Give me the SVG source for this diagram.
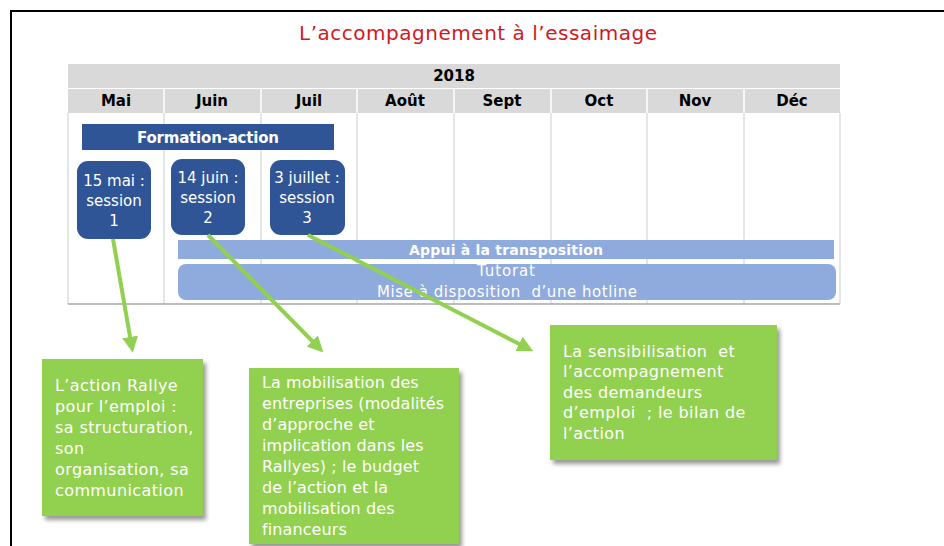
<svg xmlns="http://www.w3.org/2000/svg" width="944" height="546" viewBox="0 0 944 546">
<style>
.hdr{fill:#D9D9D9}
.mon{font-family:"DejaVu Sans",sans-serif;font-weight:bold;font-size:15px;fill:#000;text-anchor:middle}
.grid{stroke:#D4D4D4;stroke-width:1.2;fill:none}
.sess{fill:#2F5597}
.st{font-family:"DejaVu Sans",sans-serif;font-size:15px;fill:#fff;text-anchor:middle}
.lb{fill:#8FAADC}
.gb{fill:#92D050;filter:url(#sh)}
.gt{font-family:"DejaVu Sans",sans-serif;font-size:16px;letter-spacing:0.4px;fill:#fff}
.conn{stroke:#92D050;stroke-width:4;fill:none;marker-end:url(#ah)}
</style>
<defs>
<filter id="sh" x="-10%" y="-10%" width="130%" height="130%">
<feDropShadow dx="3" dy="4" stdDeviation="2" flood-color="#7f7f7f" flood-opacity="0.8"/>
</filter>
<marker id="ah" viewBox="0 0 10 10" refX="7" refY="5" markerWidth="4" markerHeight="4" orient="auto" markerUnits="strokeWidth">
<path d="M0,0 L10,5 L0,10 z" fill="#92D050"/>
</marker>
</defs>
<rect width="944" height="546" fill="#fff"/>
<path d="M11,546 V11 H944" stroke="#000" stroke-width="2" fill="none"/>
<text id="title" x="478" y="40" font-family="DejaVu Sans,sans-serif" font-size="20" fill="#D0191F" text-anchor="middle" textLength="358">L’accompagnement à l’essaimage</text>
<g id="table">
<rect class="hdr" x="68" y="64" width="772" height="24"/>
<text x="454" y="81" font-family="DejaVu Sans,sans-serif" font-weight="bold" font-size="15" text-anchor="middle">2018</text>
<rect class="hdr" x="68" y="89" width="772" height="24"/>
<g stroke="#fff" stroke-width="1.5">
<line x1="164" y1="89" x2="164" y2="113"/><line x1="261" y1="89" x2="261" y2="113"/><line x1="357" y1="89" x2="357" y2="113"/><line x1="454" y1="89" x2="454" y2="113"/><line x1="551" y1="89" x2="551" y2="113"/><line x1="647" y1="89" x2="647" y2="113"/><line x1="744" y1="89" x2="744" y2="113"/>
</g>
<text class="mon" x="116" y="106">Mai</text>
<text class="mon" x="212" y="106">Juin</text>
<text class="mon" x="309" y="106">Juil</text>
<text class="mon" x="405" y="106">Août</text>
<text class="mon" x="502" y="106">Sept</text>
<text class="mon" x="599" y="106">Oct</text>
<text class="mon" x="695" y="106">Nov</text>
<text class="mon" x="792" y="106">Déc</text>
<g class="grid">
<line x1="68" y1="113" x2="68" y2="304"/><line x1="840" y1="113" x2="840" y2="304"/>
<line x1="164" y1="113" x2="164" y2="304"/><line x1="261" y1="113" x2="261" y2="304"/><line x1="357" y1="113" x2="357" y2="304"/><line x1="454" y1="113" x2="454" y2="304"/><line x1="551" y1="113" x2="551" y2="304"/><line x1="647" y1="113" x2="647" y2="304"/><line x1="744" y1="113" x2="744" y2="304"/>
</g>
<line x1="68" y1="304" x2="840" y2="304" stroke="#A6A6A6" stroke-width="1.5"/>
</g>
<g id="formation">
<rect x="82" y="124" width="252" height="26" fill="#2F5597"/>
<text x="208" y="143" font-family="DejaVu Sans,sans-serif" font-weight="bold" font-size="15" fill="#fff" text-anchor="middle" textLength="142">Formation-action</text>
</g>
<g id="session1">
<rect class="sess" x="77" y="161" width="74" height="78" rx="11"/>
<text class="st" x="114" y="186">15 mai :</text><text class="st" x="114" y="206">session</text><text class="st" x="114" y="226">1</text>
</g>
<g id="session2">
<rect class="sess" x="171" y="159" width="74" height="76" rx="11"/>
<text class="st" x="208" y="183">14 juin :</text><text class="st" x="208" y="203">session</text><text class="st" x="208" y="223">2</text>
</g>
<g id="session3">
<rect class="sess" x="270" y="160" width="75" height="75" rx="11"/>
<text class="st" x="307" y="183">3 juillet :</text><text class="st" x="307" y="203">session</text><text class="st" x="307" y="223">3</text>
</g>
<g id="appui">
<rect class="lb" x="178" y="240" width="656" height="19"/>
<text x="506" y="255" font-family="DejaVu Sans,sans-serif" font-weight="bold" font-size="14" fill="#fff" text-anchor="middle" textLength="194">Appui à la transposition</text>
</g>
<g id="tutorat">
<rect class="lb" x="178" y="264" width="658" height="36" rx="8"/>
<text x="506" y="276" font-family="DejaVu Sans,sans-serif" font-size="15" fill="#fff" text-anchor="middle" textLength="58">Tutorat</text>
<text x="507" y="297" font-family="DejaVu Sans,sans-serif" font-size="15" fill="#fff" text-anchor="middle" textLength="260" xml:space="preserve">Mise à disposition  d’une hotline</text>
</g>
<g id="connectors">
<line class="conn" x1="113" y1="239" x2="132" y2="348"/>
<line class="conn" x1="208" y1="235" x2="320" y2="349"/>
<line class="conn" x1="308" y1="235" x2="529" y2="349"/>
</g>
<g id="note1">
<rect class="gb" x="42" y="359" width="161" height="157"/>
<text class="gt"><tspan x="55" y="391">L’action Rallye</tspan><tspan x="55" y="412">pour l’emploi :</tspan><tspan x="55" y="433">sa structuration,</tspan><tspan x="55" y="454">son</tspan><tspan x="55" y="475">organisation, sa</tspan><tspan x="55" y="496">communication</tspan></text>
</g>
<g id="note2">
<rect class="gb" x="249" y="368" width="210" height="176"/>
<text class="gt" style="letter-spacing:0.1px"><tspan x="262" y="388">La mobilisation des</tspan><tspan x="262" y="409">entreprises (modalités</tspan><tspan x="262" y="430">d’approche et</tspan><tspan x="262" y="451">implication dans les</tspan><tspan x="262" y="472">Rallyes) ; le budget</tspan><tspan x="262" y="493">de l’action et la</tspan><tspan x="262" y="514">mobilisation des</tspan><tspan x="262" y="535">financeurs</tspan></text>
</g>
<g id="note3">
<rect class="gb" x="550" y="325" width="227" height="135"/>
<text class="gt" xml:space="preserve"><tspan x="563" y="357">La sensibilisation  et</tspan><tspan x="563" y="377">l’accompagnement</tspan><tspan x="563" y="398">des demandeurs</tspan><tspan x="563" y="418">d’emploi  ; le bilan de</tspan><tspan x="563" y="439">l’action</tspan></text>
</g>
</svg>
